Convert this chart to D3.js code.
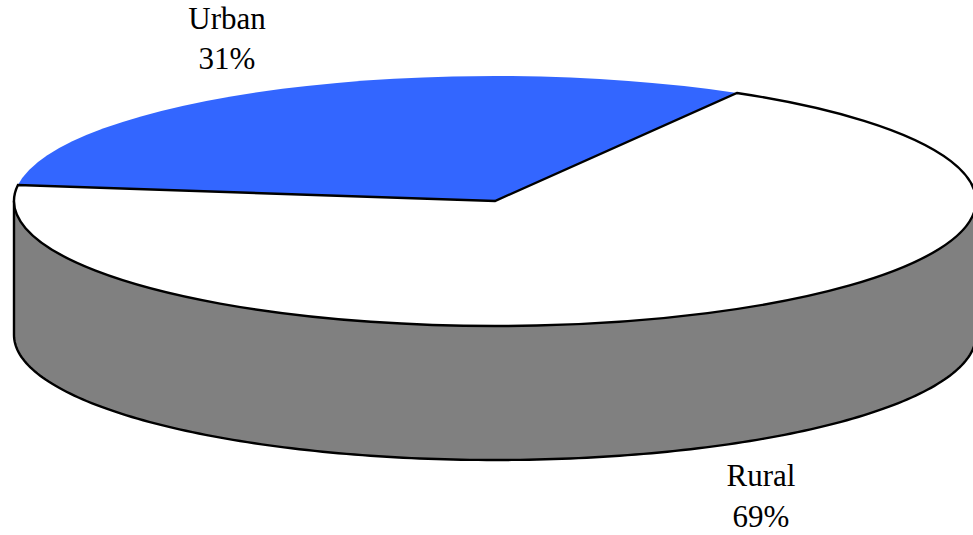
<!DOCTYPE html>
<html>
<head>
<meta charset="utf-8">
<script src="https://cdn.jsdelivr.net/npm/d3@7"></script>
<style>
html,body{margin:0;padding:0;background:#fff;overflow:hidden}
svg{display:block}
text{font-family:"Liberation Serif","Times New Roman",serif;font-size:31px;fill:#000;text-anchor:middle}
</style>
</head>
<body>
<svg id="chart" width="973" height="535"></svg>
<script>
const categories = ["Rural", "Urban"];
const shares = [68.65, 31.35];
const colors = ["#ffffff", "#3366ff"];
const labelLines = [["Rural", "69%"], ["Urban", "31%"]];

const W = 973, H = 535;
const cx = 495, cy = 201, rx = 481, ry = 125, depth = 134;
const firstSliceAngle = 30.2 * Math.PI / 180;

const svg = d3.select("#chart").attr("viewBox", `0 0 ${W} ${H}`);

// Side wall
const sidePath = d3.path();
sidePath.moveTo(cx - rx, cy);
sidePath.lineTo(cx - rx, cy + depth);
const sidePts = d3.range(0, 181, 1).map(a => {
  const t = a * Math.PI / 180;
  return [cx - rx * Math.cos(t), cy + depth + ry * Math.sin(t)];
});
sidePts.forEach(p => sidePath.lineTo(p[0], p[1]));
sidePath.lineTo(cx + rx, cy);
svg.append("path").attr("d", sidePath.toString())
  .attr("fill", "#808080").attr("stroke", "#000").attr("stroke-width", 2.4);

// Top face
const pie = d3.pie().sort(null)
  .startAngle(firstSliceAngle)
  .endAngle(firstSliceAngle + 2 * Math.PI);
const arcs = pie(shares);
const arc = d3.arc().innerRadius(0).outerRadius(rx);

const topFace = svg.append("g")
  .attr("transform", `translate(${cx},${cy}) scale(1,${ry / rx})`);

topFace.selectAll("path").data(arcs).join("path")
  .attr("d", arc)
  .attr("fill", (d, i) => colors[i])
  .attr("stroke", (d, i) => categories[i] === "Rural" ? "#000" : "none")
  .attr("stroke-width", 2.4)
  .attr("stroke-linejoin", "miter")
  .attr("vector-effect", "non-scaling-stroke")
  .sort((a, b) => b.index - a.index);

// Labels
const labelPos = [[761, 486, 527], [227, 29, 69]];
labelLines.forEach((lines, i) => {
  lines.forEach((s, j) => {
    svg.append("text").attr("x", labelPos[i][0]).attr("y", labelPos[i][j + 1]).text(s);
  });
});
</script>
</body>
</html>
